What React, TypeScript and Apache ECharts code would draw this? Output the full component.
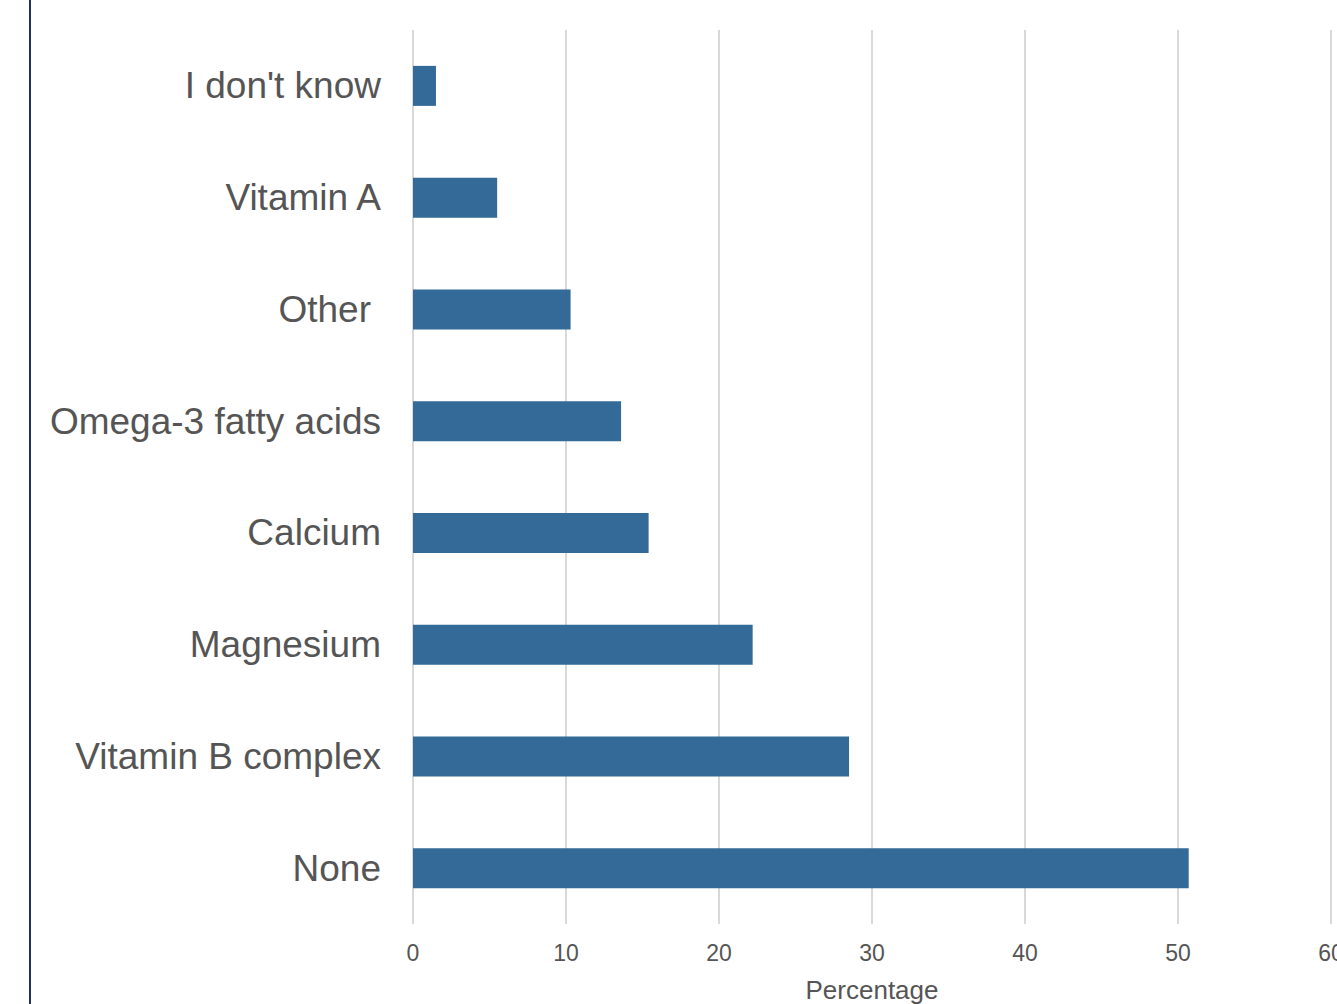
import React, { useEffect, useRef } from "react";
import * as echarts from "echarts";

const categories = [
  "None",
  "Vitamin B complex",
  "Magnesium",
  "Calcium",
  "Omega-3 fatty acids",
  "Other ",
  "Vitamin A",
  "I don't know",
];
const values = [50.7, 28.5, 22.2, 15.4, 13.6, 10.3, 5.5, 1.5];
const xTicks = [0, 10, 20, 30, 40, 50, 60];
const axisTitle = "Percentage";

export default function App() {
  const ref = useRef<HTMLDivElement>(null);
  useEffect(() => {
    if (!ref.current) return;
    const chart = echarts.init(ref.current, undefined, { renderer: "svg" });
    const font = "'Liberation Sans', Arial, sans-serif";
    chart.setOption({
      animation: false,
      textStyle: { fontFamily: font },
      grid: {
        left: 413,
        right: 6,
        top: 30,
        bottom: 80,
        containLabel: false,
        outerBoundsMode: "none",
      },
      xAxis: {
        type: "value",
        min: xTicks[0],
        max: xTicks[xTicks.length - 1],
        interval: 10,
        axisLine: { show: false },
        axisTick: { show: false },
        splitLine: { show: true, lineStyle: { color: "#d9d9d9", width: 2 } },
        axisLabel: { fontSize: 23, color: "#555555", margin: 17, fontFamily: font },
        name: axisTitle,
        nameLocation: "middle",
        nameGap: 53,
        nameTextStyle: { fontSize: 26, color: "#555555", fontFamily: font },
      },
      yAxis: {
        type: "category",
        data: categories,
        axisLine: { show: false },
        axisTick: { show: false },
        splitLine: { show: false },
        axisLabel: {
          fontSize: 37,
          color: "#555555",
          margin: 32,
          fontFamily: font,
          formatter: (v: string) => (v.endsWith(" ") ? "{o|" + v.trim() + "}" : v),
          rich: {
            o: { fontSize: 37, color: "#555555", fontFamily: font, padding: [0, 10, 0, 0] },
          },
        },
      },
      series: [
        {
          type: "bar",
          data: values,
          barWidth: 40,
          itemStyle: { color: "#336a98" },
        },
      ],
      graphic: [
        {
          type: "line",
          shape: { x1: 30, y1: 0, x2: 30, y2: 1004 },
          style: { stroke: "#1c3556", lineWidth: 2 },
        },
      ],
    });
    return () => chart.dispose();
  }, []);
  return (
    <div
      ref={ref}
      style={{ position: "absolute", left: 0, top: 0, width: "100vw", height: "100vh", background: "#fff" }}
    />
  );
}
